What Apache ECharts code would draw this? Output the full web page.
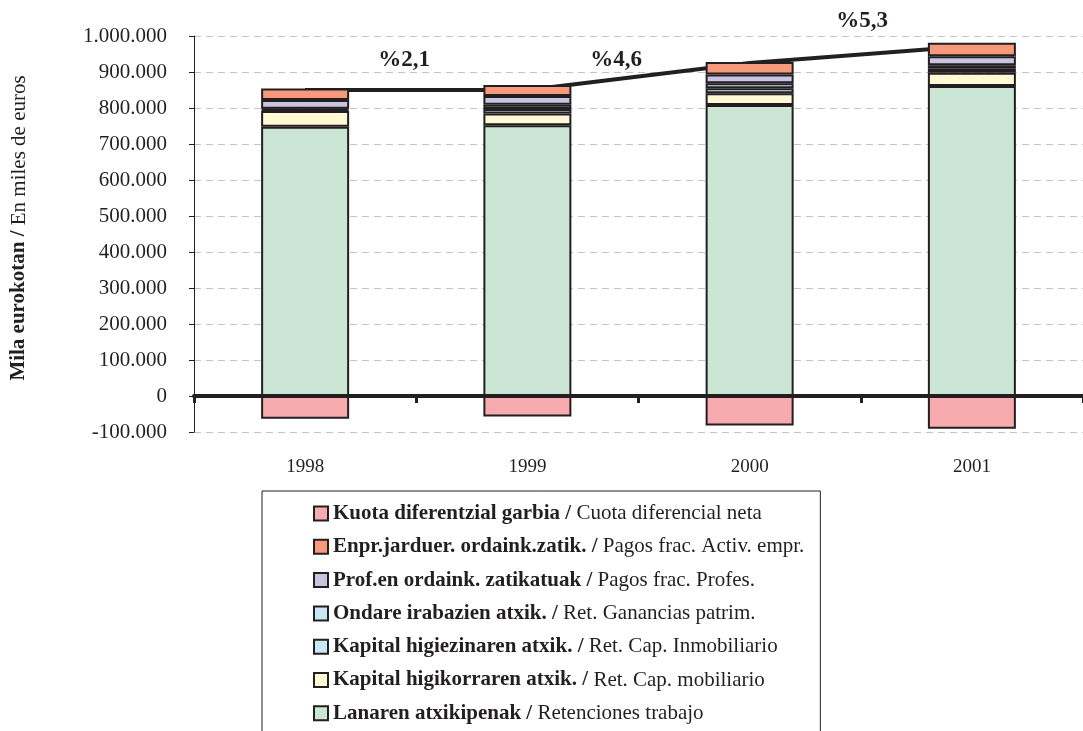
<!DOCTYPE html>
<html>
<head>
<meta charset="utf-8">
<script src="https://cdn.jsdelivr.net/npm/echarts@6/dist/echarts.min.js"></script>
<style>
  html, body { margin: 0; padding: 0; background: #fff; }
  #main { width: 1083px; height: 731px; }
</style>
</head>
<body>
<div id="main"></div>
<script>
var chart = echarts.init(document.getElementById('main'));

// data (miles de euros)
var years = ['1998', '1999', '2000', '2001'];
var lanaren = [748000, 752000, 808000, 861000];
var higikor = [44000, 33000, 33000, 37000];
var higiez = [3000, 12000, 14000, 11000];
var ondare = [3000, 12000, 14000, 10000];
var profes = [24000, 24000, 24000, 25000];
var enpr = [32000, 31000, 35000, 37000];
var kuota = [-63000, -57000, -82000, -91000];
var totalLine = [850000, 850000, 925000, 972000];
var growthLabels = ['%2,1', '%4,6', '%5,3'];

var names = {
    kuota: 'Kuota diferentzial garbia / Cuota diferencial neta',
    enpr: 'Enpr.jarduer. ordaink.zatik. / Pagos frac. Activ. empr.',
    profes: 'Prof.en ordaink. zatikatuak / Pagos frac. Profes.',
    ondare: 'Ondare irabazien atxik. / Ret. Ganancias patrim.',
    higiez: 'Kapital higiezinaren atxik. / Ret. Cap. Inmobiliario',
    higikor: 'Kapital higikorraren atxik. / Ret. Cap. mobiliario',
    lanaren: 'Lanaren atxikipenak / Retenciones trabajo'
};

var dark = '#231f20';
var font = 'Liberation Serif';

function fmt(v) {
    var s = String(Math.abs(v)).replace(/\B(?=(\d{3})+(?!\d))/g, '.');
    return (v < 0 ? '-' : '') + s;
}

function bar(name, data, color) {
    return {
        name: name,
        type: 'bar',
        stack: 'total',
        barWidth: 88,
        data: data,
        itemStyle: { color: color, borderColor: dark, borderWidth: 2 }
    };
}

var option = {
    animation: false,
    backgroundColor: '#fff',
    grid: { left: 194, right: -11, top: 36, bottom: 299 },
    legend: {
        orient: 'vertical',
        left: 262,
        top: 491,
        height: 300,
        padding: [12, 16, 30, 51],
        borderColor: dark,
        borderWidth: 1,
        icon: 'rect',
        itemWidth: 14,
        itemHeight: 14,
        itemGap: 12.3,
        data: [names.kuota, names.enpr, names.profes, names.ondare, names.higiez, names.higikor, names.lanaren],
        formatter: function (name) {
            var p = name.split(' / ');
            return '{b|' + p[0] + ' /} {n|' + p[1] + '}';
        },
        textStyle: {
            fontFamily: font, fontSize: 21, color: dark,
            rich: {
                b: { fontFamily: font, fontSize: 21, fontWeight: 'bold', color: dark, lineHeight: 21 },
                n: { fontFamily: font, fontSize: 21, color: dark, lineHeight: 21 }
            }
        }
    },
    xAxis: [{
        type: 'category',
        data: years,
        axisLine: { onZero: true, lineStyle: { color: dark, width: 4 } },
        axisTick: { show: true, inside: false, length: 7, lineStyle: { color: dark, width: 3 } },
        axisLabel: { show: false },
        z: 10
    }, {
        type: 'category',
        data: years,
        position: 'bottom',
        axisLine: { show: false, onZero: false },
        axisTick: { show: false },
        axisLabel: { margin: 26, fontFamily: font, fontSize: 19, color: dark }
    }],
    yAxis: {
        type: 'value',
        min: -100000,
        max: 1000000,
        interval: 100000,
        axisLine: { show: true, lineStyle: { color: dark, width: 1 } },
        axisTick: { show: true, inside: false, length: 5, lineStyle: { color: dark } },
        axisLabel: { margin: 27, fontFamily: font, fontSize: 21, color: dark, formatter: fmt },
        splitLine: { lineStyle: { color: '#c4c4c4', type: [7, 5], width: 1 } }
    },
    series: [
        {
            type: 'line',
            data: totalLine,
            symbol: 'none',
            z: 1,
            lineStyle: { color: dark, width: 4 },
            silent: true
        },
        bar(names.lanaren, lanaren, '#cce6d5'),
        bar(names.higikor, higikor, '#fff9d6'),
        bar(names.higiez, higiez, '#c8e8f4'),
        bar(names.ondare, ondare, '#c8e8f4'),
        bar(names.profes, profes, '#c9c4e2'),
        bar(names.enpr, enpr, '#f79a7c'),
        bar(names.kuota, kuota, '#f7abae')
    ],
    graphic: [{
        type: 'text',
        x: 19,
        y: 228,
        rotation: Math.PI / 2,
        style: {
            text: '{b|Mila eurokotan /} {n|En miles de euros}',
            align: 'center',
            verticalAlign: 'middle',
            fill: dark,
            font: '21px ' + font,
            rich: {
                b: { fontFamily: font, fontSize: 21, fontWeight: 'bold', fill: dark },
                n: { fontFamily: font, fontSize: 21, fill: dark }
            }
        }
    }]
};

// growth labels placed between bars
var labelPos = [[404, 60], [616, 60], [862, 21]];
growthLabels.forEach(function (t, i) {
    option.graphic.push({
        type: 'text',
        x: labelPos[i][0],
        y: labelPos[i][1],
        style: {
            text: t,
            align: 'center',
            verticalAlign: 'middle',
            fill: dark,
            font: 'bold 23px ' + font
        }
    });
});

chart.setOption(option);
</script>
</body>
</html>
